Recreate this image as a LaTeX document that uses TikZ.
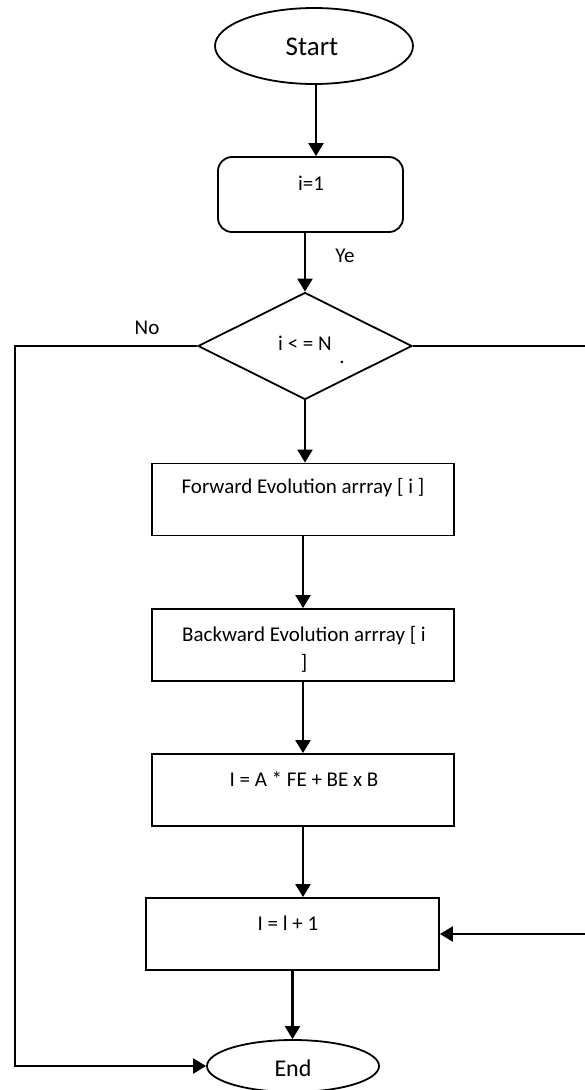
\documentclass[tikz,border=0pt]{standalone}
\usepackage{fontspec}
\setmainfont{Carlito}
\usetikzlibrary{shapes.geometric,arrows.meta}
\begin{document}
\begin{tikzpicture}[x=1pt,y=-1pt,
  outline/.style={draw, line width=1.8pt, inner sep=0pt},
  procbox/.style={outline, rectangle, minimum width=302pt, minimum height=72pt},
  arr/.style={line width=2.2pt, -{Triangle[length=13pt,width=15pt]}},
  txt/.style={inner sep=0pt, font=\fontsize{21}{28}\selectfont},
  big/.style={inner sep=0pt, font=\fontsize{27}{30}\selectfont}]
\useasboundingbox (0,0) rectangle (585,1090);

% terminals
\node[outline, ellipse, minimum width=198pt, minimum height=76pt] (start) at (314,46) {};
\node[big] (starttxt) at (312,47) {Start};
\node[outline, ellipse, minimum width=172pt, minimum height=52pt] (end) at (293,1066) {};
\node[big, font=\fontsize{24}{28}\selectfont] (endtxt) at (293,1068) {End};

% init box
\node[outline, rectangle, rounded corners=14pt, minimum width=185pt, minimum height=75pt] (init) at (310.5,194.5) {};
\node[txt] (inittxt) at (311,183) {i=1};

% decision
\node[outline, diamond, minimum width=214pt, minimum height=107pt] (cond) at (305,346) {};
\node[txt] (condtxt) at (305,343) {i < = N};
\node[txt] (dot) at (342,362) {.};

% process boxes
\node[procbox] (fe) at (303,499.5) {};
\node[txt] (fetxt) at (303,488) {Forward Evolution arrray [ i ]};
\node[procbox] (be) at (303,645) {};
\node[txt, align=center] (betxt) at (304,649) {Backward Evolution arrray [ i\\]};
\node[procbox] (calc) at (303,790) {};
\node[txt] (calctxt) at (304,779) {I = A * FE + BE x B};
\node[procbox, minimum width=293pt] (inc) at (292.5,934) {};
\node[txt] (inctxt) at (288,923) {I = l + 1};

% labels
\node[txt] (ye) at (345,256) {Ye};
\node[txt] (no) at (147,328) {No};

% connectors
\draw[arr] ([xshift=2pt]start.south) -- ([xshift=2pt]start.south |- init.north);
\draw[arr] (cond.north |- init.south) -- (cond.north);
\draw[arr] (cond.south) -- (cond.south |- fe.north);
\draw[arr] (fe.south) -- (be.north);
\draw[arr] (be.south) -- (calc.north);
\draw[arr] (calc.south) -- (calc.south |- inc.north);
\draw[arr] (inc.south) -- (inc.south |- end.north);
\draw[arr] (cond.west) -- ++(-182,0) |- (end.west);
\draw[arr] (cond.east) -- ++(177,0) |- (inc.east);
\end{tikzpicture}
\end{document}
